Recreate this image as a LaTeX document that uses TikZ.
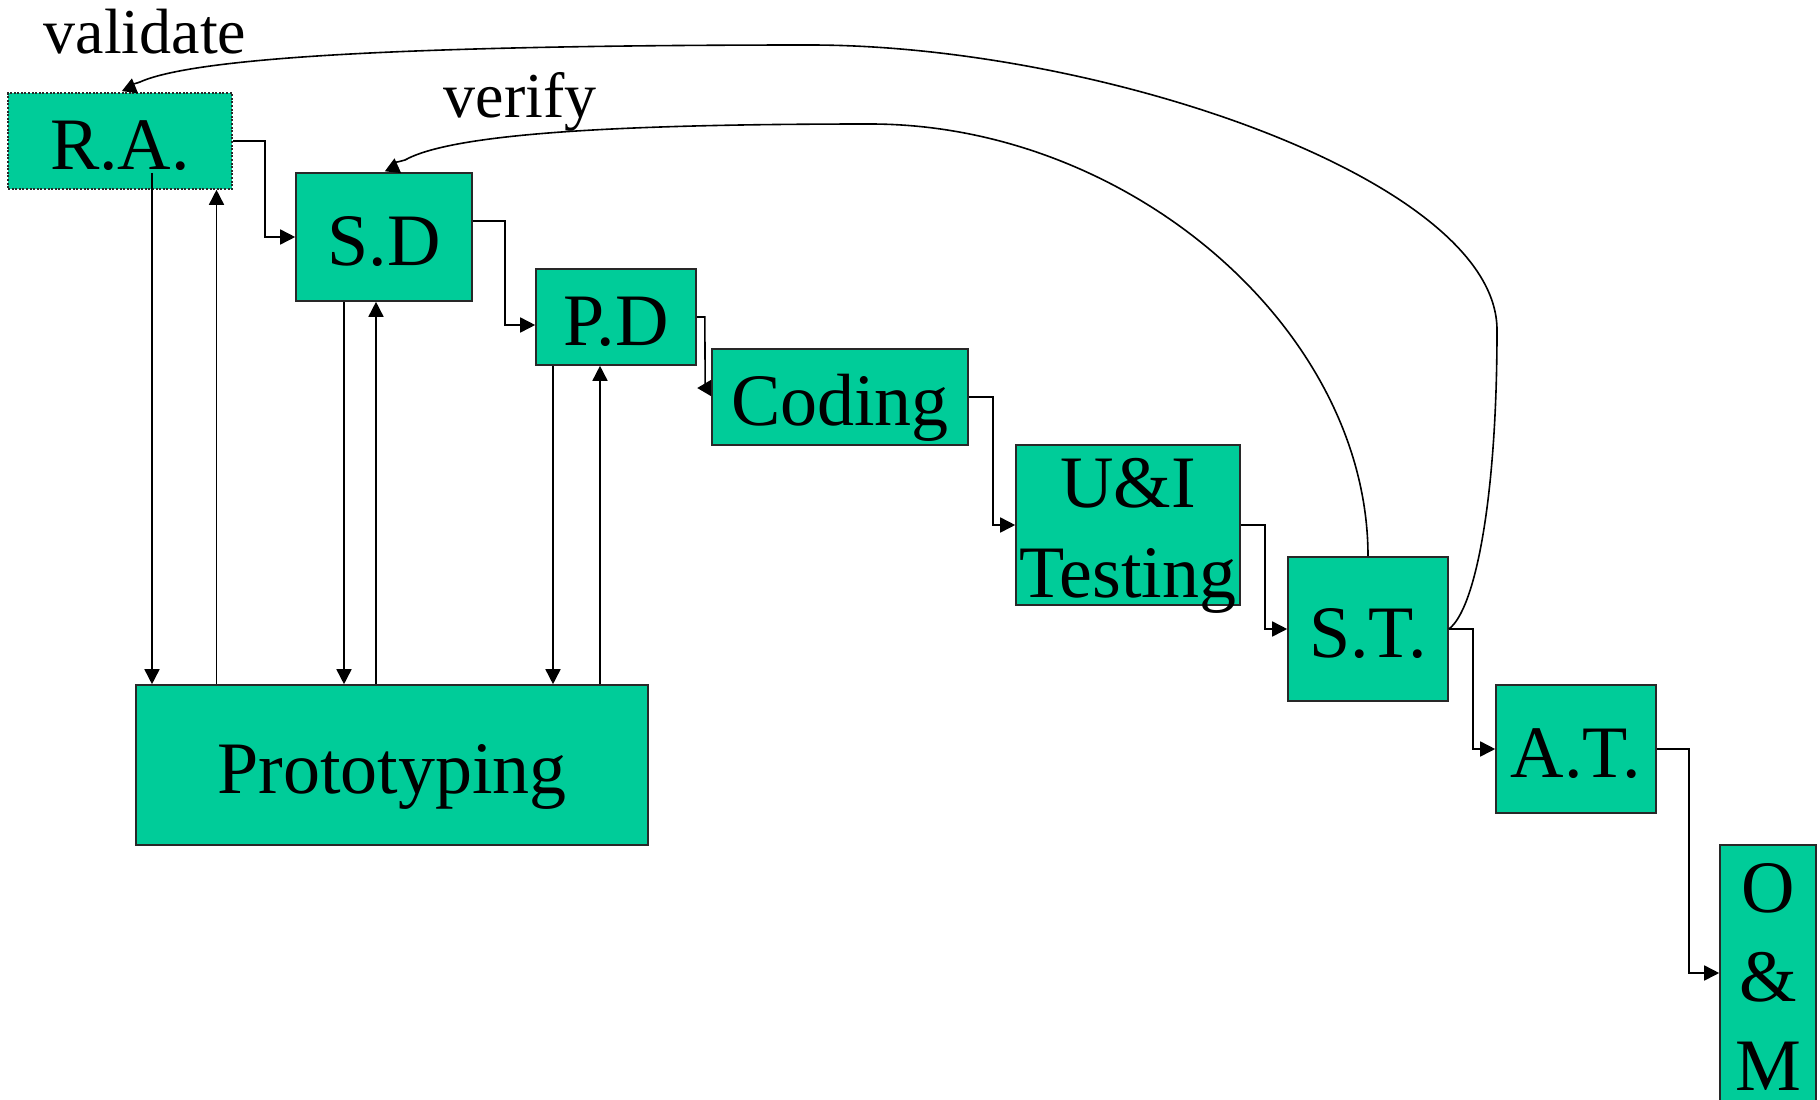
\documentclass[tikz,border=0pt]{standalone}
\usepackage{fontspec}
\setmainfont{Liberation Serif}
\usetikzlibrary{arrows.meta,calc}
\definecolor{stagegreen}{RGB}{0,204,153}
\definecolor{stageedge}{RGB}{40,40,40}
\newcommand\stagesize{\fontsize{74}{90}\selectfont}
\newcommand\notesize{\fontsize{64}{76}\selectfont}

\begin{document}
\begin{tikzpicture}[x=1pt,y=-1pt,
  stage/.style={rectangle, fill=stagegreen, draw=stageedge, line width=1.6pt,
    inner sep=0pt, font=\stagesize, text height=56pt, text depth=0pt},
  stagetext/.style={font=\stagesize, inner sep=0pt, anchor=base},
  note/.style={font=\notesize, inner sep=0pt, anchor=base},
  flow/.style={draw=black, line width=1.6pt, -{Triangle[length=15pt,width=15pt]}},
  backflow/.style={draw=black, line width=1.6pt, -{Triangle[length=14pt,width=16pt,reversed]}}]

\useasboundingbox (0,0) rectangle (1820,1100);

% stages of the life cycle
\node[stage, minimum width=224pt, minimum height=96pt,
      dash pattern=on 2pt off 1.6pt] (RA) at (120,141) {R.A.};
\node[stage, minimum width=176pt, minimum height=128pt] (SD) at (384,237) {S.D};
\node[stage, minimum width=160pt, minimum height=96pt] (PD) at (616,317) {P.D};
\node[stage, minimum width=256pt, minimum height=96pt] (CD) at (840,397) {Coding};
\node[stage, minimum width=224pt, minimum height=160pt] (UI) at (1128,525) {};
\node[stagetext] (UIa) at (1128,507) {U\&I};
\node[stagetext] (UIb) at (1128,597) {Testing};
\node[stage, minimum width=160pt, minimum height=144pt] (ST) at (1368,629) {S.T.};
\node[stage, minimum width=160pt, minimum height=128pt] (AT) at (1576,749) {A.T.};
\node[stage, minimum width=96pt, minimum height=256pt] (OM) at (1768,973) {};
\node[stagetext] (OMa) at (1768,912) {O};
\node[stagetext] (OMb) at (1768,1001) {\&};
\node[stagetext] (OMc) at (1768,1090) {M};
\node[stage, minimum width=512pt, minimum height=160pt] (PR) at (392,765) {Prototyping};

% feedback labels
\node[note] (val) at (145,53) {validate};
\node[note] (ver) at (520,117) {verify};

% main flow
\draw[flow] (RA.east) -- ++(32,0) |- (SD.west);
\draw[flow] ($(SD.east)+(0,-16)$) -- ++(32,0) |- ($(PD.west)+(0,8)$);
\draw[backflow] (PD.east) -- ++(8,0) -- ($(CD.west)+(-6,-9)$) -- ($(CD.west)+(0,-9)$);
\draw[flow] (CD.east) -- ++(24,0) |- (UI.west);
\draw[flow] (UI.east) -- ++(24,0) |- (ST.west);
\draw[flow] (ST.east) -- ++(24,0) |- (AT.west);
\draw[flow] (AT.east) -- ++(32,0) |- (OM.west);

% links to and from prototyping
\coordinate (raD) at ($(RA.south)+(32,-17)$);
\coordinate (raU) at ($(RA.south)+(96.5,0)$);
\coordinate (sdD) at ($(SD.south)+(-40,0)$);
\coordinate (sdU) at ($(SD.south)+(-8,0)$);
\coordinate (pdD) at ($(PD.south)+(-63,0)$);
\coordinate (pdU) at ($(PD.south)+(-16,0)$);
\draw[flow] (raD) -- (raD |- PR.north);
\draw[flow] (raU |- PR.north) -- (raU);
\draw[flow] (sdD) -- (sdD |- PR.north);
\draw[flow] (sdU |- PR.north) -- (sdU);
\draw[flow] (pdD) -- (pdD |- PR.north);
\draw[flow] (pdU |- PR.north) -- (pdU);

% validate and verify loops
\draw[backflow] (ST.east) .. controls (1475,610) and (1497,500) .. (1497,330)
  .. controls (1497,180) and (1100,45) .. (810,45)
  .. controls (450,45) and (200,55) .. (140,82)
  .. controls (131,85) .. ($(RA.north)+(10,0)$);
\draw[backflow] (ST.north) .. controls (1368,330) and (1130,124) .. (870,124)
  .. controls (600,124) and (450,135) .. (405,160)
  .. controls (394,163) .. ($(SD.north)+(9,0)$);
\end{tikzpicture}
\end{document}
